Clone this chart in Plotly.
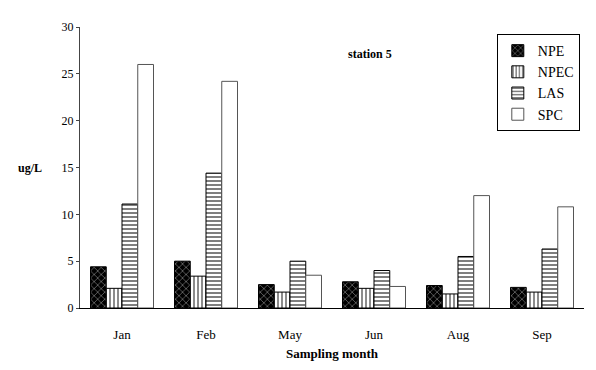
import plotly.graph_objects as go

months = ["Jan", "Feb", "May", "Jun", "Aug", "Sep"]
npe = [4.4, 5.0, 2.5, 2.8, 2.4, 2.2]
npec = [2.1, 3.4, 1.7, 2.1, 1.5, 1.7]
las = [11.1, 14.4, 5.0, 4.0, 5.5, 6.3]
spc = [26.0, 24.2, 3.5, 2.3, 12.0, 10.8]
yticks = [0, 5, 10, 15, 20, 25, 30]

FONT = "Liberation Serif"

fig = go.Figure()
fig.add_trace(go.Bar(name="NPE", x=months, y=npe,
                     marker=dict(color="black", line=dict(color="black", width=1),
                                 pattern=dict(shape="x", fgcolor="white", bgcolor="black", size=5, solidity=0.25))))
fig.add_trace(go.Bar(name="NPEC", x=months, y=npec,
                     marker=dict(color="white", line=dict(color="black", width=1),
                                 pattern=dict(shape="|", fgcolor="black", bgcolor="white", size=4, solidity=0.45))))
fig.add_trace(go.Bar(name="LAS", x=months, y=las,
                     marker=dict(color="white", line=dict(color="black", width=1),
                                 pattern=dict(shape="-", fgcolor="black", bgcolor="white", size=4, solidity=0.5))))
fig.add_trace(go.Bar(name="SPC", x=months, y=spc,
                     marker=dict(color="white", line=dict(color="#555555", width=1))))

fig.update_layout(
    width=596, height=370,
    margin=dict(l=72, r=20, t=14, b=70),
    paper_bgcolor="white", plot_bgcolor="white",
    barmode="group", bargap=0.25, bargroupgap=0.0,
    font=dict(family=FONT, color="black", size=11),
    showlegend=True,
    legend=dict(x=0.827, y=0.975, xanchor="left", yanchor="top",
                bordercolor="black", borderwidth=1, bgcolor="white",
                font=dict(family=FONT, size=14), itemwidth=30),
    xaxis=dict(showline=True, linecolor="black", linewidth=1, ticks="",
               showgrid=False, range=[-0.5, 5.5], ticklabelstandoff=14,
               title=dict(text="<b>Sampling month</b>", font=dict(family=FONT, size=13), standoff=8),
               tickfont=dict(family=FONT, size=13)),
    yaxis=dict(range=[0, 30], tickvals=yticks, showline=True, linecolor="#444444",
               linewidth=1, ticks="outside", ticklen=3, showgrid=False, zeroline=False,
               tickfont=dict(family=FONT, size=12)),
    annotations=[
        dict(text="<b>ug/L</b>", x=(30 - 80) / 504, y=(308 - 165) / 286, xref="paper", yref="paper",
             showarrow=False, xanchor="center", font=dict(family=FONT, size=12)),
        dict(text="<b>station 5</b>", x=(370 - 80) / 504, y=(308 - 40) / 286, xref="paper", yref="paper",
             showarrow=False, font=dict(family=FONT, size=12)),
    ],
)
fig.write_html("out.html")
